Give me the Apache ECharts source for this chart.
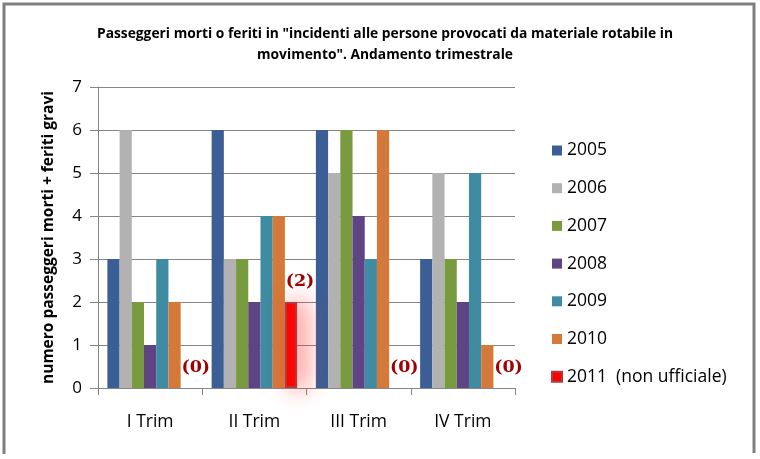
<!DOCTYPE html>
<html>
<head>
<meta charset="utf-8">
<script src="https://cdn.jsdelivr.net/npm/echarts@6/dist/echarts.min.js"></script>
<style>html,body{margin:0;padding:0;background:#fff}#c{width:760px;height:459px}</style>
</head>
<body>
<div id="c"></div>
<script>
const categories = ['I Trim', 'II Trim', 'III Trim', 'IV Trim'];
const seriesNames = ['2005', '2006', '2007', '2008', '2009', '2010', '2011  (non ufficiale)'];
const v2005 = [3, 6, 6, 3];
const v2006 = [6, 3, 5, 5];
const v2007 = [2, 3, 6, 3];
const v2008 = [1, 2, 4, 2];
const v2009 = [3, 4, 3, 5];
const v2010 = [2, 4, 6, 1];
const v2011 = [0, 2, 0, 0];
const yTicks = [0, 1, 2, 3, 4, 5, 6, 7];

const values = [v2005, v2006, v2007, v2008, v2009, v2010, v2011];
const colors = ['#3B5E96', '#B2B2B2', '#789B3F', '#5E4483', '#3F8BA2', '#D4793A', '#FF0000'];
const FONT = 'Open Sans';

const chart = echarts.init(document.getElementById('c'));
const series = values.map((d, i) => {
  const s = {
    name: seriesNames[i],
    type: 'bar',
    data: d,
    barGap: '0%',
    barCategoryGap: '18%',
    itemStyle: { color: colors[i] }
  };
  if (i === 6) {
    s.itemStyle = {
      color: '#FF0000',
      borderColor: '#B23A3A',
      borderWidth: 2,
      shadowBlur: 22,
      shadowColor: 'rgba(255,60,60,0.75)',
      shadowOffsetX: 7
    };
    s.data = d.map(v => v === 0
      ? { value: v, itemStyle: { color: 'transparent', borderWidth: 0, shadowBlur: 0, shadowColor: 'transparent' } }
      : v);
    s.label = {
      show: true,
      position: 'top',
      distance: 12,
      offset: [9, 0],
      formatter: '({c})',
      color: '#A00000',
      fontFamily: 'DejaVu Serif',
      fontWeight: 'bold',
      fontSize: 17.5
    };
  }
  return s;
});

chart.setOption({
  animation: false,
  backgroundColor: '#fff',
  title: {
    text: 'Passeggeri morti o feriti in "incidenti alle persone provocati da materiale rotabile in\nmovimento". Andamento trimestrale',
    left: 380,
    top: 19,
    textAlign: 'center',
    textStyle: { fontFamily: FONT, fontSize: 13.8, fontWeight: 'bold', color: '#000', lineHeight: 21 }
  },
  legend: {
    orient: 'vertical',
    left: 546,
    top: 136,
    itemWidth: 10,
    itemHeight: 10,
    itemGap: 18.7,
    icon: 'rect',
    textStyle: { fontFamily: FONT, fontSize: 17.5, color: '#000', lineHeight: 19 },
    data: seriesNames
  },
  grid: { left: 98, right: 245, top: 87, bottom: 71 },
  xAxis: {
    type: 'category',
    data: categories,
    axisLine: { lineStyle: { color: '#868686', width: 1 } },
    axisTick: { show: true, length: 7, lineStyle: { color: '#868686' } },
    axisLabel: { fontFamily: FONT, fontSize: 17.5, color: '#000', margin: 25 }
  },
  yAxis: {
    type: 'value',
    min: 0,
    max: 7,
    interval: 1,
    name: 'numero passeggeri morti + feriti gravi',
    nameLocation: 'middle',
    nameGap: 41,
    nameTextStyle: { fontFamily: FONT, fontSize: 15.5, fontWeight: 'bold', color: '#000' },
    axisLine: { show: true, lineStyle: { color: '#868686' } },
    axisTick: { show: true, length: 8, lineStyle: { color: '#868686' } },
    axisLabel: {
      fontFamily: FONT, fontSize: 17, color: '#000', margin: 16,
      formatter: v => yTicks.includes(v) ? String(v) : ''
    },
    splitLine: { lineStyle: { color: '#868686', width: 1 } }
  },
  series: series,
  graphic: [
    { type: 'polyline', shape: { points: [[4, 454], [4, 4], [754, 4], [754, 453]] },
      style: { stroke: '#7f7f7f', lineWidth: 3, fill: null }, silent: true }
  ]
});
</script>
</body>
</html>
